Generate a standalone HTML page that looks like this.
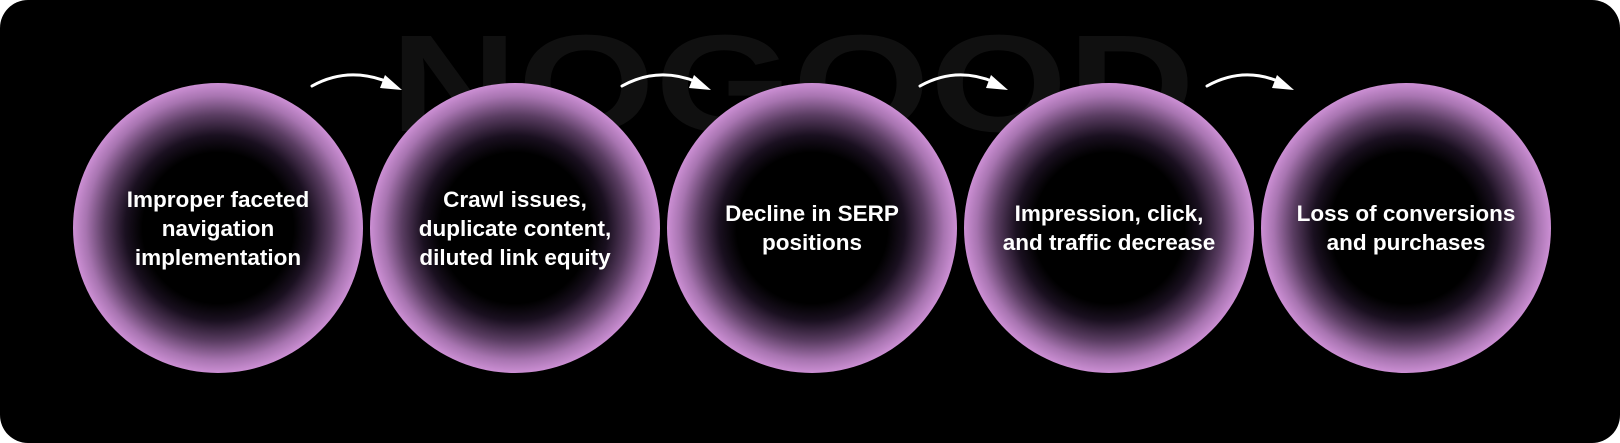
<!DOCTYPE html>
<html><head><style>
html,body{margin:0;padding:0;background:#fff;}
.wrap{position:relative;width:1620px;height:443px;overflow:hidden;background:#fff;}
.bg{position:absolute;left:0;top:0;width:1620px;height:443px;background:#000;border-radius:28px;}
.c{position:absolute;width:290px;height:290px;border-radius:50%;top:83px;
background:radial-gradient(circle closest-side at 50% 50%,#000 0%,#000 52%,#1a1020 64%,#5a3d62 78%,#a774b0 91%,#cc8fd4 100%);
display:flex;align-items:center;justify-content:center;text-align:center;color:#fff;
font-family:"Liberation Sans",sans-serif;font-weight:bold;font-size:22.5px;line-height:29px;}
</style></head><body><div class="wrap">
<div class="bg"></div>
<svg width="1620" height="443" style="position:absolute;left:0;top:0">
<text x="390" y="131" textLength="805" lengthAdjust="spacingAndGlyphs" font-family="Liberation Sans,sans-serif" font-weight="bold" font-size="138" fill="#101010">NOGOOD</text>
</svg>
<div class="c" style="left:73px">Improper faceted<br>navigation<br>implementation</div>
<div class="c" style="left:370px">Crawl issues,<br>duplicate content,<br>diluted link equity</div>
<div class="c" style="left:667px">Decline in SERP<br>positions</div>
<div class="c" style="left:964px">Impression, click,<br>and traffic decrease</div>
<div class="c" style="left:1261px">Loss of conversions<br>and purchases</div>
<svg width="1620" height="443" style="position:absolute;left:0;top:0">
<g fill="none" stroke="#fff" stroke-width="3" stroke-linecap="round">
<path d="M312 86 Q348 66 388 82"/>
<path d="M622 86 Q658 66 697 82"/>
<path d="M920 86 Q956 66 994 82"/>
<path d="M1207 86 Q1243 66 1280 82"/>
</g>
<g fill="#fff">
<polygon points="402,90 385,75 380,88"/>
<polygon points="711,90 694,75 689,88"/>
<polygon points="1008,90 991,75 986,88"/>
<polygon points="1294,90 1277,75 1272,88"/>
</g>
</svg>
</div></body></html>
